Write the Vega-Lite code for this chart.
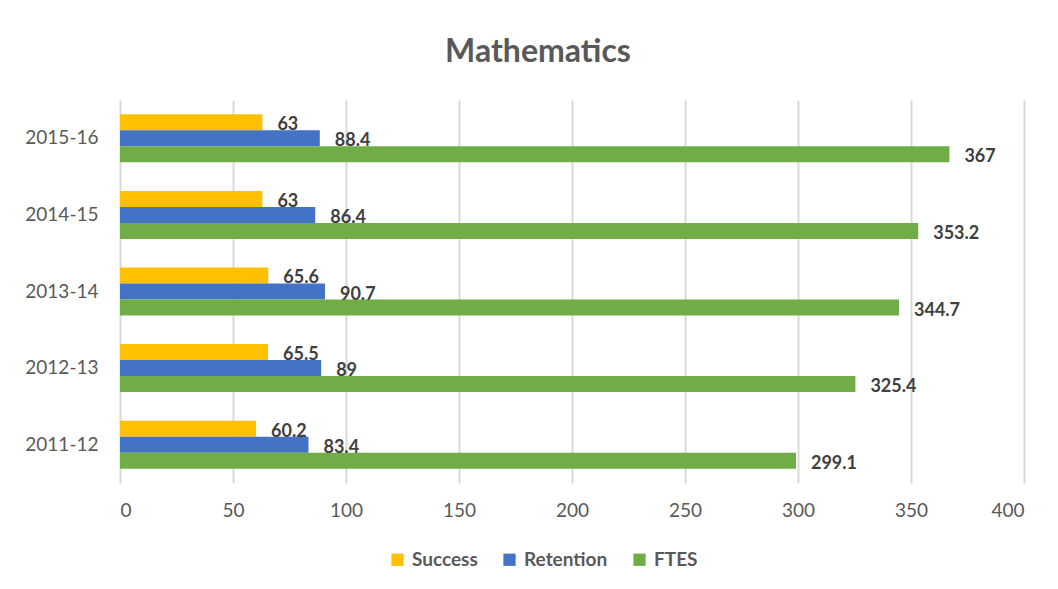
{
  "$schema": "https://vega.github.io/schema/vega-lite/v6.json",
  "width": 904,
  "height": 383,
  "autosize": {"type": "none"},
  "padding": {"left": 120, "top": 100, "right": 34, "bottom": 106},
  "background": "white",
  "config": {
    "font": "Lato",
    "view": {"stroke": null}
  },
  "title": {
    "text": "Mathematics",
    "font": "Lato",
    "fontSize": 32,
    "fontWeight": "bold",
    "color": "#595959",
    "anchor": "middle",
    "dx": -34,
    "offset": 31
  },
  "data": {
    "values": [
      {"year": "2015-16", "series": "Success", "value": 63},
      {"year": "2015-16", "series": "Retention", "value": 88.4},
      {"year": "2015-16", "series": "FTES", "value": 367},
      {"year": "2014-15", "series": "Success", "value": 63},
      {"year": "2014-15", "series": "Retention", "value": 86.4},
      {"year": "2014-15", "series": "FTES", "value": 353.2},
      {"year": "2013-14", "series": "Success", "value": 65.6},
      {"year": "2013-14", "series": "Retention", "value": 90.7},
      {"year": "2013-14", "series": "FTES", "value": 344.7},
      {"year": "2012-13", "series": "Success", "value": 65.5},
      {"year": "2012-13", "series": "Retention", "value": 89},
      {"year": "2012-13", "series": "FTES", "value": 325.4},
      {"year": "2011-12", "series": "Success", "value": 60.2},
      {"year": "2011-12", "series": "Retention", "value": 83.4},
      {"year": "2011-12", "series": "FTES", "value": 299.1}
    ]
  },
  "encoding": {
    "y": {
      "field": "year",
      "type": "nominal",
      "sort": ["2015-16", "2014-15", "2013-14", "2012-13", "2011-12"],
      "scale": {"paddingInner": 0.373, "paddingOuter": 0.1865},
      "axis": {
        "title": null,
        "domain": false,
        "ticks": false,
        "grid": false,
        "labelFont": "Lato",
        "labelFontSize": 19,
        "labelColor": "#595959",
        "labelPadding": 22
      }
    },
    "yOffset": {
      "field": "series",
      "type": "nominal",
      "sort": ["Success", "Retention", "FTES"],
      "scale": {"paddingInner": 0, "paddingOuter": 0}
    },
    "x": {
      "field": "value",
      "type": "quantitative",
      "scale": {"domain": [0, 400], "nice": false},
      "axis": {
        "title": null,
        "values": [0, 50, 100, 150, 200, 250, 300, 350, 400],
        "domain": false,
        "ticks": false,
        "grid": true,
        "gridColor": "#d9d9d9",
        "gridWidth": 2,
        "labelFont": "Lato",
        "labelFontSize": 19,
        "labelColor": "#595959",
        "labelPadding": 18
      }
    }
  },
  "layer": [
    {
      "mark": {"type": "bar"},
      "encoding": {
        "color": {
          "field": "series",
          "type": "nominal",
          "sort": ["Success", "Retention", "FTES"],
          "scale": {
            "domain": ["Success", "Retention", "FTES"],
            "range": ["#FFC000", "#4472C4", "#70AD47"]
          },
          "legend": {
            "title": null,
            "orient": "none",
            "direction": "horizontal",
            "legendX": 268,
            "legendY": 450,
            "padding": 0,
            "symbolType": "square",
            "symbolSize": 150,
            "symbolStrokeWidth": 0,
            "labelFont": "Lato",
            "labelFontSize": 19,
            "labelFontWeight": "bold",
            "labelColor": "#595959",
            "labelOffset": 5,
            "columnPadding": 22
          }
        }
      }
    },
    {
      "mark": {
        "type": "text",
        "align": "left",
        "baseline": "middle",
        "dx": 15,
        "dy": 3,
        "font": "Lato",
        "fontSize": 18,
        "fontWeight": "bold",
        "color": "#404040"
      },
      "encoding": {
        "text": {"field": "value", "type": "quantitative"}
      }
    }
  ]
}
